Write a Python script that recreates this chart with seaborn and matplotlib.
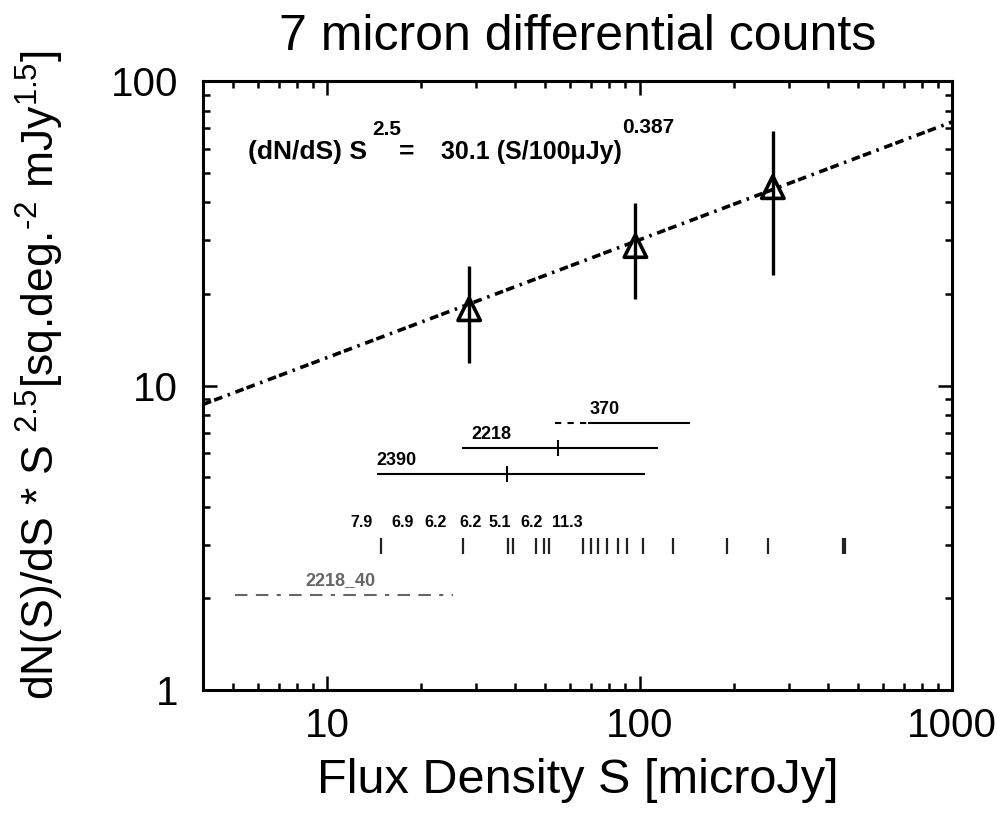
import numpy as np
import pandas as pd
import matplotlib
matplotlib.use("Agg")
import matplotlib.pyplot as plt
import seaborn as sns

# Binned 7 micron differential counts (Euclidean-normalised) with 1-sigma limits
flux = [28.5, 97.0, 267.0]
counts = [17.8, 28.7, 44.8]
counts_hi = [24.6, 39.7, 68.5]
counts_lo = [11.9, 19.3, 23.0]

# Power-law fit: (dN/dS) S^2.5 = norm * (S / pivot)^slope
fit_norm = 30.1
fit_slope = 0.387
fit_pivot = 100.0

# Fluxes of individual detected sources
source_flux = [14.85, 27.3, 38.0, 39.5, 46.6, 49.5, 51.4, 65.8, 69.8, 73.8,
               78.5, 85.5, 91.0, 102.8, 128.3, 190.0, 257.0, 447.0, 455.0]

# Noise levels quoted above the source fluxes
noise_labels = ["7.9", "6.9", "6.2", "6.2", "5.1", "6.2", "11.3"]

# Flux ranges covered by each field
field_names = ["370", "2218", "2390"]
field_start = [68.4, 27.0, 14.4]
field_end = [145.0, 114.5, 104.0]
field_dashed_start = [53.6, None, None]
field_mid = [None, 54.8, 37.6]

deep_name = "2218_40"
deep_start = 5.08
deep_end = 25.3

# ---------------------------------------------------------------- style
sns.set_theme(style="ticks")
plt.rcParams["font.family"] = ["Liberation Sans", "DejaVu Sans"]
plt.rcParams["mathtext.fontset"] = "custom"
plt.rcParams["mathtext.rm"] = "Liberation Sans"
plt.rcParams["mathtext.it"] = "Liberation Sans:italic"
plt.rcParams["mathtext.bf"] = "Liberation Sans:bold"
plt.rcParams["mathtext.default"] = "regular"
for key in ["text.color", "axes.labelcolor", "xtick.color", "ytick.color",
            "axes.edgecolor"]:
    plt.rcParams[key] = "black"

fig = plt.figure(figsize=(9.97, 8.25), dpi=100)
ax = fig.add_axes([0.2036, 0.1636, 0.7513, 0.7382])

ax.set_xscale("log")
ax.set_yscale("log")
ax.set_xlim(4.01, 1000)
ax.set_ylim(1, 100)

# fit line
fit_df = pd.DataFrame({"S": [4.01, 1000.0]})
fit_df["y"] = fit_norm * (fit_df["S"] / fit_pivot) ** fit_slope
sns.lineplot(data=fit_df, x="S", y="y", ax=ax, color="black", lw=2.6,
             legend=False)
ax.lines[-1].set_dashes([2.4, 0.9, 2.4, 1.6, 0.7, 1.6])

# data points with error bars
pts = pd.DataFrame({"S": flux, "y": counts, "hi": counts_hi, "lo": counts_lo})
ax.vlines(pts["S"], pts["lo"], pts["hi"], color="black", lw=2.4)
sns.scatterplot(data=pts, x="S", y="y", ax=ax, marker="^", s=260,
                facecolor="none", edgecolor="black", linewidth=2.6,
                legend=False, zorder=5)

# individual source fluxes
src = pd.DataFrame({"S": source_flux, "y": 2.97})
sns.scatterplot(data=src, x="S", y="y", ax=ax, marker="|", s=140,
                color="#222222", linewidth=1.6, legend=False)

# noise labels
noise_x = [12.9, 17.4, 22.2, 28.7, 35.8, 45.0, 58.6]
for xv, lab in zip(noise_x, noise_labels):
    ax.text(xv, 3.54, lab, ha="center", va="center", fontsize=11.5,
            fontweight="bold")

# field flux ranges
level = [7.53, 6.23, 5.12]
label_dx = [2, 10, 0]
for name, s0, s1, sd, sm, yv, dx in zip(field_names, field_start, field_end,
                                        field_dashed_start, field_mid, level,
                                        label_dx):
    ax.hlines(yv, s0, s1, color="black", lw=1.5)
    if sd is not None:
        ax.hlines(yv, sd, s0, color="black", lw=1.5, linestyles=(0, (3, 3)))
    if sm is not None:
        ax.plot([sm], [yv], marker="|", ms=12, mew=1.5, color="black")
    ax.annotate(name, xy=(s0, yv), xytext=(dx, 5), textcoords="offset pixels",
                ha="left", va="bottom", fontsize=13, fontweight="bold")

ax.hlines(2.05, deep_start, deep_end, color="#666666", lw=1.5,
          linestyles=(0, (6, 4, 6, 4, 2, 4)))
ax.annotate(deep_name, xy=(11.0, 2.05), xytext=(0, 6),
            textcoords="offset pixels", ha="center", va="bottom",
            fontsize=13, fontweight="bold", color="#666666")


# fit formula
def axpix(px, py):
    return ((px - 203) / 749.0, (690 - py) / 609.0)


fkw = dict(transform=ax.transAxes, fontweight="bold", va="center", ha="left")
ax.text(*axpix(248, 152), "(dN/dS) S", fontsize=19, **fkw)
ax.text(*axpix(372, 129), "2.5", fontsize=15, **fkw)
ax.text(*axpix(399, 152), "=", fontsize=19, **fkw)
ax.text(*axpix(441, 152), "30.1 (S/100\u03bcJy)", fontsize=18, **fkw)
ax.text(*axpix(622, 127), "0.387", fontsize=15, **fkw)

# axes, ticks
ax.set_xticks([10, 100, 1000])
ax.set_xticklabels(["10", "100", "1000"])
ax.set_yticks([1, 10, 100])
ax.set_yticklabels(["1", "10", "100"])
ax.tick_params(which="both", direction="in", top=True, right=True,
               color="black", width=1.8)
ax.tick_params(which="major", length=10)
ax.tick_params(which="minor", length=5)
ax.tick_params(axis="x", which="major", labelsize=29, pad=12)
ax.tick_params(axis="y", which="major", labelsize=29, pad=18)
for sp in ax.spines.values():
    sp.set_visible(True)
    sp.set_linewidth(2.2)
    sp.set_color("black")

ax.set_xlabel("Flux Density S [microJy]", fontsize=35)
ax.xaxis.set_label_coords(0.5, -0.112)
ax.set_ylabel("dN(S)/dS * S $^{2.5}$[sq.deg.$^{\u20102}$ mJy$^{1.5}$]",
              fontsize=32)
ax.yaxis.set_label_coords(-0.183, 0.517)
ax.set_title("7 micron differential counts", fontsize=36, y=1.051, pad=0)

fig.savefig("out.png", dpi=100)
